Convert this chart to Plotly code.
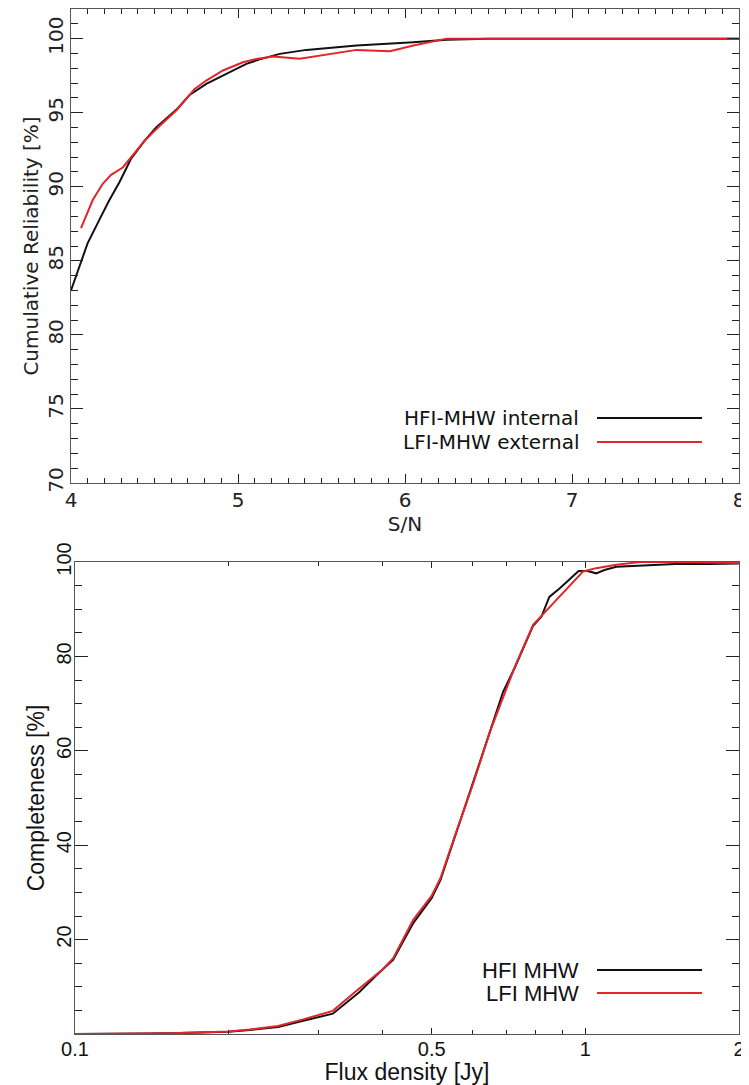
import math
import plotly.graph_objects as go

# The page body adds an 8 px margin; size the figure so it fills the 749x1085 window.
PAGE_W, PAGE_H = 749, 1085
OFF = 8
W, H = PAGE_W - OFF, PAGE_H - OFF

# ---------------- data: top panel (cumulative reliability vs S/N) ----------------
sn_hfi = [4.0, 4.06, 4.1, 4.18, 4.23, 4.29, 4.36, 4.44, 4.51, 4.64, 4.71, 4.81, 4.93,
          5.05, 5.13, 5.25, 5.41, 5.71, 6.05, 6.25, 6.5, 8.0]
rel_hfi = [83.0, 85.0, 86.2, 88.0, 89.1, 90.3, 91.9, 93.1, 94.0, 95.3, 96.2, 96.95, 97.6,
           98.3, 98.6, 98.97, 99.24, 99.53, 99.76, 99.92, 100.0, 100.0]

sn_lfi = [4.06, 4.13, 4.19, 4.24, 4.31, 4.36, 4.44, 4.53, 4.63, 4.68, 4.74, 4.81, 4.91,
          5.03, 5.11, 5.21, 5.37, 5.71, 5.91, 6.05, 6.25, 8.0]
rel_lfi = [87.2, 89.1, 90.2, 90.8, 91.3, 92.0, 93.1, 94.1, 95.15, 95.8, 96.6, 97.17, 97.85,
           98.4, 98.63, 98.8, 98.64, 99.24, 99.15, 99.53, 100.0, 100.0]

# ---------------- data: bottom panel (completeness vs flux density) ----------------
flux_hfi = [0.1, 0.12, 0.14, 0.16, 0.18, 0.2, 0.22, 0.25, 0.28, 0.32, 0.36, 0.39, 0.42,
            0.46, 0.5, 0.52, 0.56, 0.6, 0.65, 0.69, 0.73, 0.79, 0.82, 0.85, 0.89, 0.97,
            1.01, 1.05, 1.09, 1.15, 1.28, 1.5, 1.75, 2.0]
comp_hfi = [0.0, 0.0, 0.1, 0.2, 0.35, 0.5, 0.85, 1.5, 2.8, 4.3, 8.8, 12.5, 15.7,
            23.5, 28.8, 32.6, 43.0, 52.5, 64.0, 72.5, 78.0, 86.5, 88.4, 92.6, 94.4, 98.1,
            98.1, 97.6, 98.3, 99.0, 99.2, 99.6, 99.6, 99.7]

flux_lfi = [0.1, 0.12, 0.14, 0.16, 0.18, 0.2, 0.22, 0.25, 0.28, 0.32, 0.36, 0.40, 0.42,
            0.46, 0.5, 0.52, 0.56, 0.6, 0.65, 0.70, 0.73, 0.79, 0.99, 1.05, 1.15, 1.28,
            1.5, 2.0]
comp_lfi = [0.0, 0.0, 0.1, 0.2, 0.35, 0.55, 0.95, 1.7, 3.1, 4.9, 9.6, 13.6, 16.0,
            24.2, 29.3, 33.0, 43.2, 52.4, 64.0, 73.2, 78.2, 86.7, 98.0, 98.7, 99.4, 100.0,
            100.0, 99.8]

# ---------------- ticks / labels ----------------
top_xticks = [4, 5, 6, 7, 8]
top_yticks = [70, 75, 80, 85, 90, 95, 100]
bot_xticks = [0.1, 0.5, 1, 2]
bot_xticklabels = ["0.1", "0.5", "1", "2"]
bot_xminor = [0.2, 0.3, 0.4, 0.6, 0.7, 0.8, 0.9]
bot_yticks = [20, 40, 60, 80, 100]

top_names = ["HFI-MHW internal", "LFI-MHW external"]
bot_names = ["HFI MHW", "LFI MHW"]

BLACK = "#111111"
RED = "#e3242b"
AXC = "#555555"
TOPFONT = "DejaVu Sans"
BOTFONT = "Liberation Sans"


def px_x(p):
    return (p - OFF) / W


def px_y(p):
    return 1 - (p - OFF) / H


fig = go.Figure()
fig.add_trace(go.Scatter(x=sn_hfi, y=rel_hfi, mode="lines", name=top_names[0],
                         line=dict(color=BLACK, width=2), xaxis="x", yaxis="y"))
fig.add_trace(go.Scatter(x=sn_lfi, y=rel_lfi, mode="lines", name=top_names[1],
                         line=dict(color=RED, width=2), xaxis="x", yaxis="y"))
fig.add_trace(go.Scatter(x=flux_hfi, y=comp_hfi, mode="lines", name=bot_names[0],
                         line=dict(color=BLACK, width=2), xaxis="x2", yaxis="y2"))
fig.add_trace(go.Scatter(x=flux_lfi, y=comp_lfi, mode="lines", name=bot_names[1],
                         line=dict(color=RED, width=2), xaxis="x2", yaxis="y2"))

common = dict(showline=True, linecolor=AXC, linewidth=1, mirror="allticks",
              ticks="inside", tickcolor="#222222", showgrid=False, zeroline=False,
              automargin=False, ticklabeloverflow="allow")

fig.update_layout(
    width=W, height=H,
    margin=dict(l=0, r=0, t=0, b=0),
    paper_bgcolor="white", plot_bgcolor="white",
    showlegend=False,
    xaxis=dict(domain=[px_x(71), px_x(739)], range=[4, 8], anchor="y",
               tickmode="array", tickvals=top_xticks, ticklen=9, tickwidth=1,
               ticklabelstandoff=-1,
               minor=dict(dtick=0.1, tick0=4, ticklen=5, ticks="inside", tickcolor="#222222"),
               tickfont=dict(family=TOPFONT, size=20, color="#222222"),
               title=dict(text="S/N", font=dict(family=TOPFONT, size=20, color="#222222"),
                          standoff=0),
               **common),
    yaxis=dict(domain=[px_y(483), px_y(9)], range=[70, 102], anchor="x",
               tickmode="array", tickvals=top_yticks, ticklen=12, tickangle=-90,
               ticklabelstandoff=-1,
               minor=dict(dtick=1, tick0=70, ticklen=7, ticks="inside", tickcolor="#222222"),
               tickfont=dict(family=TOPFONT, size=20, color="#222222"),
               title=dict(text="Cumulative Reliability [%]",
                          font=dict(family=TOPFONT, size=20, color="#222222"), standoff=0),
               **common),
    xaxis2=dict(domain=[px_x(75), px_x(739)], type="log",
                range=[-1, math.log10(2)], anchor="y2",
                tickmode="array", tickvals=bot_xticks, ticktext=bot_xticklabels,
                ticklen=6, tickwidth=1, ticklabelstandoff=-3,
                minor=dict(tickmode="array", tickvals=bot_xminor, ticklen=4,
                           ticks="inside", tickcolor="#222222"),
                tickfont=dict(family=BOTFONT, size=20, color="#111111"),
                title=dict(text="Flux density [Jy]",
                           font=dict(family=BOTFONT, size=23, color="#111111"), standoff=7),
                **common),
    yaxis2=dict(domain=[px_y(1034), px_y(562)], range=[0, 100], anchor="x2",
                tickmode="array", tickvals=bot_yticks, ticklen=13, tickangle=-90,
                ticklabelstandoff=-5,
                minor=dict(dtick=5, tick0=0, ticklen=7, ticks="inside", tickcolor="#222222"),
                tickfont=dict(family=BOTFONT, size=20, color="#111111"),
                title=dict(text="Completeness [%]",
                           font=dict(family=BOTFONT, size=23, color="#111111"), standoff=1),
                **common),
)

# legends (text on the left, line sample on the right, as in the original)
legend_specs = [
    (top_names[0], BLACK, 418, TOPFONT, 20),
    (top_names[1], RED, 442, TOPFONT, 20),
    (bot_names[0], BLACK, 970, BOTFONT, 22),
    (bot_names[1], RED, 993, BOTFONT, 22),
]
for text, color, ypx, fam, size in legend_specs:
    fig.add_annotation(x=px_x(581), y=px_y(ypx), xref="paper", yref="paper",
                       text=text, showarrow=False, xanchor="right", yanchor="middle",
                       font=dict(family=fam, size=size, color="#111111"))
    fig.add_shape(type="line", xref="paper", yref="paper",
                  x0=px_x(597), x1=px_x(702), y0=px_y(ypx), y1=px_y(ypx),
                  line=dict(color=color, width=2))

fig.write_html("out.html")
